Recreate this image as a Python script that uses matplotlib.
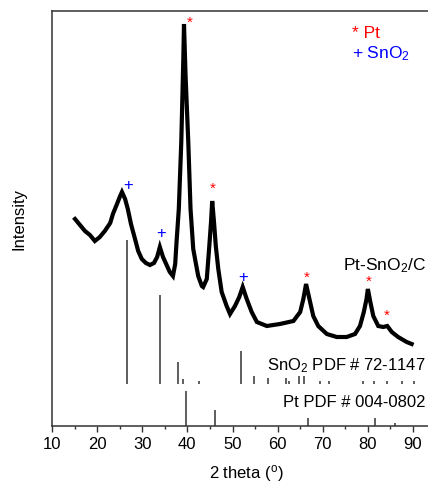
import numpy as np
import matplotlib
matplotlib.use("Agg")
import matplotlib.pyplot as plt
from matplotlib.ticker import MultipleLocator

plt.rcParams['font.family'] = ['Liberation Sans', 'DejaVu Sans']
plt.rcParams['mathtext.default'] = 'regular'

# XRD pattern of Pt-SnO2/C (arbitrary units)
two_theta = [15.1, 16.2, 17.3, 18.4, 19.5, 20.6, 21.7, 22.9, 23.5, 24.4, 25.1, 25.5,
             26.2, 26.8, 27.5, 28.4, 29.1, 29.9, 30.8, 31.7, 32.6, 33.3, 33.9, 34.6,
             35.3, 36.1, 36.8, 37.3, 37.6, 38.1, 38.65, 39.1, 39.25, 39.6, 40.2, 40.7,
             41.3, 41.7, 42.4, 43.2, 43.5, 44.3, 44.86, 45.24, 45.5, 45.9, 46.3, 46.85,
             47.6, 48.7, 49.45, 50.55, 51.5, 52.26, 53.15, 54.25, 55.4, 57.6, 60.5, 63.5,
             65.0, 65.7, 66.1, 66.3, 67.2, 67.9, 69.0, 70.9, 73.1, 75.3, 77.15, 78.25,
             79.1, 79.7, 80.0, 80.5, 81.2, 82.3, 83.4, 84.3, 85.3, 86.7, 88.6, 89.7]
intensity = [207, 201, 195, 191, 185, 189, 195, 203, 212, 222, 230, 234,
             227, 217, 202, 187, 175, 167, 163, 161, 163, 169, 179, 169,
             162, 154, 150, 162, 184, 217, 284, 367, 402, 350, 284, 217,
             177, 167, 150, 140, 139, 147, 180, 204, 225, 204, 180, 157,
             134, 120, 112, 120, 129, 139, 127, 114, 104, 100, 102, 105,
             114, 127, 137, 142, 124, 110, 100, 92, 89, 89, 92, 100,
             114, 127, 137, 125, 110, 100, 99, 100, 94, 89, 84, 82]

# reference patterns (stick positions and heights)
sno2_pos = [26.6, 33.9, 37.9, 39.0, 42.6, 51.8, 54.8, 57.8, 61.9, 62.6, 64.7, 65.9,
            69.5, 71.4, 79.0, 81.4, 84.2, 87.5, 90.3]
sno2_h = [144, 89, 22, 5, 3, 33, 8, 6, 6, 3, 8, 8, 3, 3, 3, 3, 3, 3, 3]
sno2_base = 42
pt_pos = [39.8, 46.2, 66.7, 81.6, 86.0]
pt_h = [35, 16, 8, 8, 3]

pt_marks_x = [40.6, 45.7, 66.4, 80.25, 84.2]
pt_marks_y = [404, 238, 149, 145, 111]
sno2_marks_x = [26.8, 34.1, 52.3]
sno2_marks_y = [241, 193, 149]

fig = plt.figure(figsize=(4.28, 4.85), dpi=100)
ax = fig.add_axes([52 / 428, 58 / 485, 86 * 4.5125 / 428, 415 / 485])

ax.plot(two_theta, intensity, color='black', lw=3.0, solid_joinstyle='miter')
ax.vlines(sno2_pos, sno2_base, [sno2_base + h for h in sno2_h], color='#333333', lw=1.1)
ax.vlines(pt_pos, 0, pt_h, color='#333333', lw=1.1)

for x, y in zip(pt_marks_x, pt_marks_y):
    ax.text(x, y, '*', color='red', fontsize=11, ha='center', va='center')
for x, y in zip(sno2_marks_x, sno2_marks_y):
    ax.text(x, y, '+', color='blue', fontsize=12, ha='center', va='center')

ax.text(74.5, 157, 'Pt-SnO$_2$/C', fontsize=12.5, ha='left', va='baseline')
ax.text(57.6, 57, 'SnO$_2$ PDF # 72-1147', fontsize=12, ha='left', va='baseline')
ax.text(61.2, 20, 'Pt PDF # 004-0802', fontsize=12, ha='left', va='baseline')

ax.text(76.5, 393, '* Pt', color='red', fontsize=12.5, ha='left', va='center')
ax.text(76.5, 373, '+ SnO$_2$', color='blue', fontsize=12.5, ha='left', va='center')

ax.set_xlim(10, 96)
ax.set_ylim(0, 415)
ax.xaxis.set_major_locator(MultipleLocator(10))
ax.xaxis.set_minor_locator(MultipleLocator(5))
ax.set_xticks(range(10, 91, 10))
ax.tick_params(axis='x', which='major', direction='out', length=4, width=1,
               labelsize=12, colors='#333333', labelcolor='black', pad=3)
ax.tick_params(axis='x', which='minor', direction='out', length=2.5, width=1, colors='#333333')
ax.set_yticks([])
for s in ['left', 'top', 'bottom']:
    ax.spines[s].set_color('#333333')
    ax.spines[s].set_linewidth(1.1)
ax.spines['right'].set_visible(False)

ax.set_xlabel('2 theta ($^{o}$)', fontsize=12, labelpad=8)
ax.set_ylabel('Intensity', fontsize=12, labelpad=18)

fig.savefig('out.png', dpi=100)
